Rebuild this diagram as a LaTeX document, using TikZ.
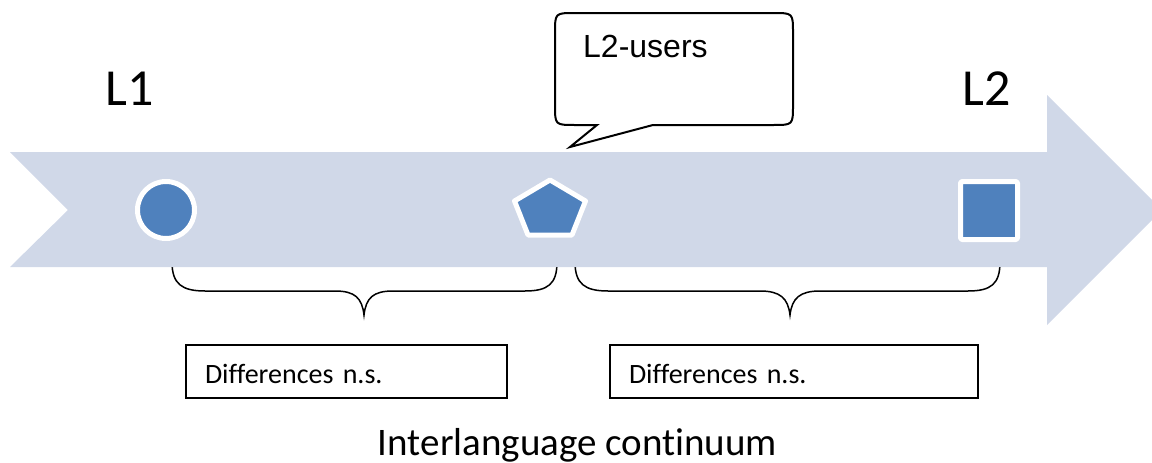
\documentclass[tikz,border=0pt]{standalone}
\usepackage{fontspec}
\setmainfont{Carlito}[Ligatures={TeX,NoCommon}]
\newfontfamily\arialf{Liberation Sans}
\definecolor{arrowc}{RGB}{208,216,232}
\definecolor{shapeblue}{RGB}{79,129,189}
\tikzset{
  marker/.style={fill=shapeblue, draw=white, line width=5pt, line join=round},
  bracepath/.style={draw=black, line width=1.5pt},
  diffbox/.style={draw=black, line width=1.5pt, inner xsep=19pt, inner ysep=0pt,
    text height=23pt, text depth=0pt, align=left, font=\fontsize{28}{30}\selectfont},
  biglabel/.style={inner sep=0pt, anchor=base west, font=\fontsize{52}{58}\selectfont}
}
\begin{document}
\begin{tikzpicture}[x=1pt,y=-1pt]
\useasboundingbox (0,0) rectangle (1152,463);
\clip (0,0) rectangle (1152,463);
% braces (behind the arrow)
\draw[bracepath] (172,262) .. controls (172,284) and (182,291) .. (205,291)
  -- (335,291) .. controls (355,291) and (362,298) .. (364,315)
  .. controls (366,298) and (373,291) .. (393,291)
  -- (525,291) .. controls (548,291) and (557,284) .. (557,262);
\draw[bracepath] (575,262) .. controls (575,284) and (585,291) .. (608,291)
  -- (760,291) .. controls (780,291) and (788,298) .. (790,315)
  .. controls (792,298) and (800,291) .. (820,291)
  -- (968,291) .. controls (991,291) and (1000,284) .. (1000,262);
% the arrow
\fill[arrowc] (10,152) -- (1047,152) -- (1047,95) -- (1162,210) -- (1047,325)
  -- (1047,267) -- (10,267) -- (68,210) -- cycle;
% markers
\draw[marker] (166,210) circle[radius=28.5];
\draw[marker] (550,180) -- (585.5,201) -- (572,235) -- (528,235) -- (514.5,201) -- cycle;
\draw[marker, rounded corners=1.5pt] (960.5,181.5) rectangle (1017.5,239.5);
% callout
\draw[line width=2pt, fill=white, line join=miter]
  (653,125) -- (773,125) .. controls (793,125) .. (793,105) -- (793,33)
  .. controls (793,13) .. (773,13) -- (575,13) .. controls (555,13) .. (555,33)
  -- (555,105) .. controls (555,125) .. (575,125) -- (597,125) -- (570,147) -- cycle;
\node[inner sep=0pt, anchor=base west, font=\arialf\fontsize{32}{36}\selectfont] (users) at (583,57) {L2-users};
% labels
\node[biglabel] (l1) at (105,105) {L1};
\node[biglabel] (l2) at (962,105) {L2};
% boxes
\node[diffbox, minimum width=321pt, minimum height=53pt, text width=283pt] (d1) at (346.5,371.5) {Differences n.s.};
\node[diffbox, minimum width=368pt, minimum height=53pt, text width=330pt] (d2) at (794,371.5) {Differences n.s.};
\node[inner sep=0pt, anchor=base, font=\fontsize{39}{43}\selectfont] (title) at (577.5,455) {Interlanguage continuum};
\end{tikzpicture}
\end{document}
